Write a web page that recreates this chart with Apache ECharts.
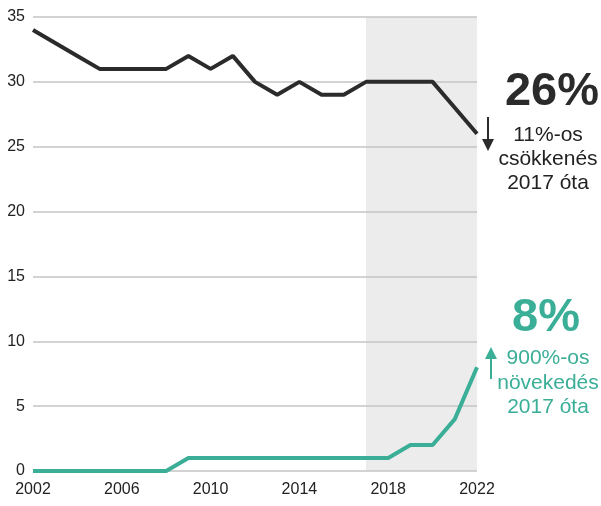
<!DOCTYPE html>
<html><head><meta charset="utf-8">
<script src="https://cdn.jsdelivr.net/npm/echarts@6/dist/echarts.min.js"></script>
<style>html,body{margin:0;padding:0;background:#fff}#c{width:601px;height:506px}</style>
</head><body><div id="c"></div>
<script>
const years = [2002,2003,2004,2005,2006,2007,2008,2009,2010,2011,2012,2013,2014,2015,2016,2017,2018,2019,2020,2021,2022];
const blackValues = [34,33,32,31,31,31,31,32,31,32,30,29,30,29,29,30,30,30,30,28,26];
const tealValues  = [0,0,0,0,0,0,0,1,1,1,1,1,1,1,1,1,1,2,2,4,8];
const shadeRange = [2017, 2022];
const yTicks = [0,5,10,15,20,25,30,35];
const xTicks = [2002,2006,2010,2014,2018,2022];

const BLACK = '#2b2b2b', TEAL = '#3aae97';
const font = 'Liberation Sans, Arial, sans-serif';
const chart = echarts.init(document.getElementById('c'), null, {renderer:'canvas'});
chart.setOption({
  animation:false,
  grid:{left:33,right:124,top:17,bottom:35},
  xAxis:{type:'value',min:2002,max:2022,interval:4,
    axisLine:{show:false},axisTick:{show:false},splitLine:{show:false},
    axisLabel:{color:'#222',fontSize:16,fontFamily:font,margin:11,formatter:v=>String(v)}},
  yAxis:{type:'value',min:0,max:35,interval:5,
    axisLine:{show:false},axisTick:{show:false},
    splitLine:{lineStyle:{color:'#c4c4c4',width:1.5}},
    axisLabel:{color:'#222',fontSize:16,fontFamily:font,margin:8}},
  series:[
    {type:'line',data:[],z:-5,silent:true,
     markArea:{silent:true,z:-5,itemStyle:{color:'rgba(0,0,0,0.075)'},data:[[{xAxis:shadeRange[0]},{xAxis:shadeRange[1]}]]}},
    {type:'line',data:years.map((y,i)=>[y,blackValues[i]]),symbol:'none',
     lineStyle:{color:BLACK,width:4},z:3},
    {type:'line',data:years.map((y,i)=>[y,tealValues[i]]),symbol:'none',
     lineStyle:{color:TEAL,width:4},z:3}
  ],
  graphic:[
    {type:'text',x:552,y:92,style:{text:'26%',fill:BLACK,font:'bold 47px '+font,textAlign:'center',textVerticalAlign:'middle'}},
    {type:'text',x:548,y:159,style:{text:'11%-os\ncsökkenés\n2017 óta',fill:'#222',font:'21px '+font,lineHeight:24,textAlign:'center',textVerticalAlign:'middle'}},
    {type:'line',shape:{x1:488,y1:117,x2:488,y2:142},style:{stroke:BLACK,lineWidth:2}},
    {type:'polygon',shape:{points:[[482,139],[494,139],[488,151]]},style:{fill:BLACK}},
    {type:'text',x:546,y:318,style:{text:'8%',fill:TEAL,font:'bold 47px '+font,textAlign:'center',textVerticalAlign:'middle'}},
    {type:'text',x:548,y:383,style:{text:'900%-os\nnövekedés\n2017 óta',fill:TEAL,font:'21px '+font,lineHeight:24.5,textAlign:'center',textVerticalAlign:'middle'}},
    {type:'line',shape:{x1:491,y1:356,x2:491,y2:379},style:{stroke:TEAL,lineWidth:2}},
    {type:'polygon',shape:{points:[[485,359],[497,359],[491,347]]},style:{fill:TEAL}}
  ]
});
</script></body></html>
